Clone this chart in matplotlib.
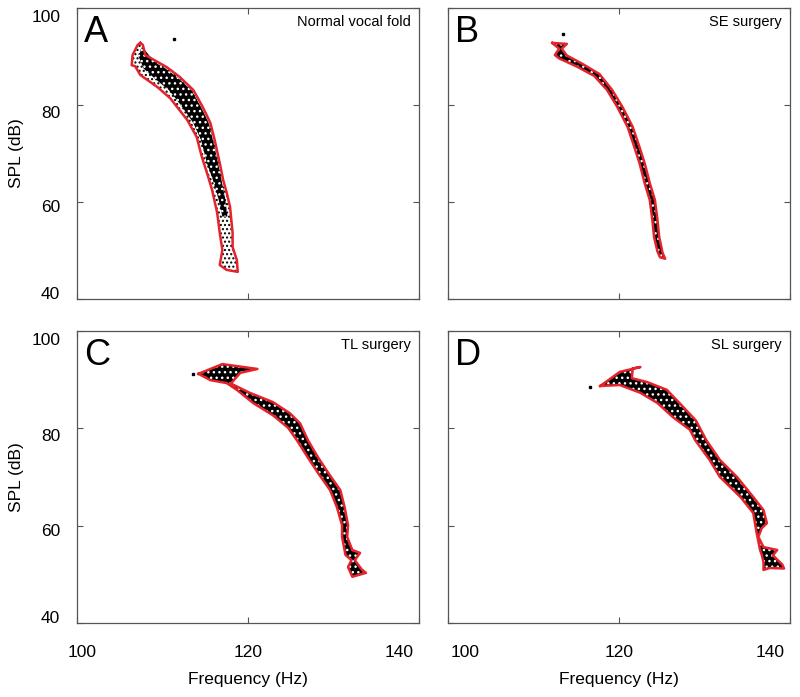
"""
Phonetogram panels (SPL vs frequency) for four vocal fold conditions.
Black = sampled points region, red = outline contour.
"""
import matplotlib
matplotlib.use("Agg")
import matplotlib.pyplot as plt
from matplotlib.transforms import ScaledTranslation

plt.rcParams["font.family"] = ["Liberation Sans", "DejaVu Sans"]
plt.rcParams["hatch.linewidth"] = 1.0

# ---------------------------------------------------------------------------
# DATA
# ---------------------------------------------------------------------------
PANEL_LETTERS = ["A", "B", "C", "D"]
PANEL_TITLES = ["Normal vocal fold", "SE surgery", "TL surgery", "SL surgery"]

X_TICKS = [100, 120, 140]
Y_TICKS = [40, 60, 80, 100]

# red outline contours (frequency Hz, SPL dB)
a_outline_f = [107.4, 107.7, 108.0, 109.4, 110.5, 112.0, 113.6, 114.7, 115.6, 116.1,
               116.7, 117.1, 117.5, 117.9, 118.2, 118.2, 118.7, 118.8, 117.5, 116.7,
               117.0, 116.7, 116.4, 115.8, 115.2, 114.6, 114.0, 112.9, 110.9, 109.4,
               107.4, 106.8, 106.4, 106.5, 107.1, 107.4]
a_outline_s = [92.8, 92.4, 90.3, 88.9, 87.8, 85.8, 83.1, 79.6, 76.3, 72.8,
               68.0, 64.5, 62.0, 59.0, 53.6, 50.7, 48.0, 45.6, 46.0, 47.0,
               50.1, 53.6, 57.7, 62.5, 66.0, 69.3, 73.4, 76.9, 81.4, 83.7,
               86.2, 88.0, 88.2, 90.3, 92.4, 92.8]
# dense part of the point cloud in panel A
a_dense_f = [107.6, 109.2, 110.3, 111.8, 113.4, 114.5, 115.4, 115.9, 116.5, 116.9,
             117.3, 117.6, 117.0, 116.5, 115.9, 115.2, 114.5, 113.6, 112.3, 110.8,
             109.2, 107.8, 107.2]
a_dense_s = [92.0, 88.7, 87.6, 85.6, 83.0, 79.6, 76.3, 72.8, 68.0, 64.5,
             61.0, 57.0, 57.0, 61.0, 64.5, 68.0, 72.8, 76.3, 79.6, 83.0,
             85.3, 87.5, 90.0]

b_outline_f = [112.2, 113.9, 113.3, 113.9, 115.6, 117.7, 119.2, 120.4, 121.6, 122.4,
               123.0, 123.6, 124.2, 124.5, 124.7, 125.1, 125.4, 124.8, 124.5, 124.1,
               123.9, 123.6, 123.0, 122.4, 121.8, 121.0, 119.8, 118.6, 117.1, 115.1,
               113.0, 112.5, 113.0, 112.2]
b_outline_s = [92.8, 92.6, 91.6, 90.2, 88.6, 86.4, 83.1, 79.6, 75.5, 71.3,
               68.0, 63.9, 60.4, 56.3, 52.8, 49.5, 48.3, 48.6, 49.8, 52.8,
               56.3, 60.4, 63.9, 68.0, 71.3, 75.5, 79.6, 83.1, 86.0, 87.9,
               89.6, 90.3, 91.6, 92.8]

c_outline_f = [114.2, 117.0, 121.1, 119.1, 118.0, 120.2, 122.9, 124.9, 126.1, 127.0,
               128.2, 129.4, 130.8, 131.3, 131.7, 131.6, 132.2, 133.1, 132.5, 133.3,
               133.8, 132.2, 131.7, 132.1, 131.4, 131.0, 131.0, 130.4, 129.6, 128.2,
               127.0, 125.7, 124.7, 122.9, 120.6, 118.7, 117.5, 115.6, 114.2]
c_outline_s = [91.2, 93.2, 92.2, 91.4, 89.2, 87.3, 85.4, 83.1, 81.0, 77.6,
               74.0, 70.8, 67.3, 63.8, 60.1, 57.7, 55.0, 54.4, 52.9, 51.0,
               50.3, 49.5, 51.5, 52.9, 54.0, 57.7, 60.1, 63.8, 67.3, 70.8,
               74.0, 77.6, 80.1, 82.7, 85.2, 87.9, 89.3, 89.9, 91.2]

d_outline_f = [117.8, 120.1, 122.5, 121.6, 121.5, 123.3, 125.6, 127.5, 129.0, 130.2,
               131.8, 133.8, 135.7, 136.9, 137.3, 136.7, 136.3, 136.9, 138.5, 138.0,
               139.1, 139.3, 137.6, 136.9, 136.9, 136.7, 136.5, 136.1, 135.7, 134.2,
               131.8, 130.6, 128.9, 128.3, 126.3, 124.5, 122.5, 120.1, 117.8]
d_outline_s = [88.7, 91.6, 92.6, 92.3, 90.3, 89.5, 87.9, 84.4, 81.6, 77.6,
               73.5, 70.0, 65.9, 63.2, 60.5, 59.5, 57.7, 55.6, 55.0, 53.9,
               52.0, 51.2, 51.3, 50.9, 52.5, 54.0, 55.0, 58.5, 62.6, 65.9,
               70.0, 73.5, 77.6, 79.7, 82.3, 85.2, 87.3, 88.9, 88.7]

# isolated stray points outside the contours
stray_f = [111.3, 113.5, 113.6, 116.6]
stray_s = [93.6, 94.6, 91.2, 88.5]

outlines = [(a_outline_f, a_outline_s), (b_outline_f, b_outline_s),
            (c_outline_f, c_outline_s), (d_outline_f, d_outline_s)]

RED = "#e4232b"
SPINE = "#555555"

# tick label nudges (pixels) to match the original layout
X_LABEL_SHIFT = {2: [5, 0, -20], 3: [17, 0, -20]}
Y_LABEL_SHIFT = [6, -4, -7, -8]

# ---------------------------------------------------------------------------
# FIGURE
# ---------------------------------------------------------------------------
fig = plt.figure(figsize=(8.0, 6.97), dpi=100)
W, H = 800.0, 697.0
# axes boxes in pixels: (left, top, right, bottom)
boxes = [(77, 8, 419, 299), (448, 8, 790, 299),
         (77, 331, 419, 623), (448, 331, 790, 623)]

for i, (l, t, r, b) in enumerate(boxes):
    ax = fig.add_axes([l / W, 1 - b / H, (r - l) / W, (b - t) / H])
    f, s = outlines[i]

    if i == 0:
        # sparse cloud + dense band
        ax.fill(f, s, facecolor="white", edgecolor="black", hatch="....", linewidth=0)
        ax.fill(a_dense_f, a_dense_s, facecolor="black", edgecolor="white",
                hatch="...", linewidth=0)
    else:
        ax.fill(f, s, facecolor="black", edgecolor="white", hatch="...", linewidth=0)
    ax.plot(f, s, color=RED, linewidth=1.8, solid_joinstyle="round")
    ax.plot(stray_f[i], stray_s[i], "s", color="black", markersize=1.5)

    ax.set_xlim(100, 140)
    ax.set_ylim(40, 100)
    ax.set_xticks(X_TICKS)
    ax.set_yticks(Y_TICKS)
    ax.tick_params(direction="in", length=4, width=0.8, color=SPINE,
                   top=True, right=True, labelsize=12.5)
    ax.tick_params(axis="y", pad=12)
    ax.tick_params(axis="x", pad=15.5)
    for sp in ax.spines.values():
        sp.set_color(SPINE)
        sp.set_linewidth(0.9)

    if i % 2 == 0:
        ax.set_ylabel("SPL (dB)", fontsize=12.5, labelpad=5)
        for k, tk in enumerate(ax.yaxis.get_major_ticks()):
            tk.label1.set_transform(tk.label1.get_transform() +
                                    ScaledTranslation(0, Y_LABEL_SHIFT[k] / 100.0,
                                                      fig.dpi_scale_trans))
    else:
        ax.set_yticklabels([])
    if i >= 2:
        ax.set_xlabel("Frequency (Hz)", fontsize=12.5, labelpad=9)
        for k, tk in enumerate(ax.xaxis.get_major_ticks()):
            tk.label1.set_transform(tk.label1.get_transform() +
                                    ScaledTranslation(X_LABEL_SHIFT[i][k] / 100.0, 0,
                                                      fig.dpi_scale_trans))
    else:
        ax.set_xticklabels([])

    ax.text(0.02, 0.975, PANEL_LETTERS[i], transform=ax.transAxes,
            fontsize=26, va="top", ha="left")
    ax.text(0.975, 0.975, PANEL_TITLES[i], transform=ax.transAxes,
            fontsize=10.5, va="top", ha="right")

fig.savefig("out.png", dpi=100)
